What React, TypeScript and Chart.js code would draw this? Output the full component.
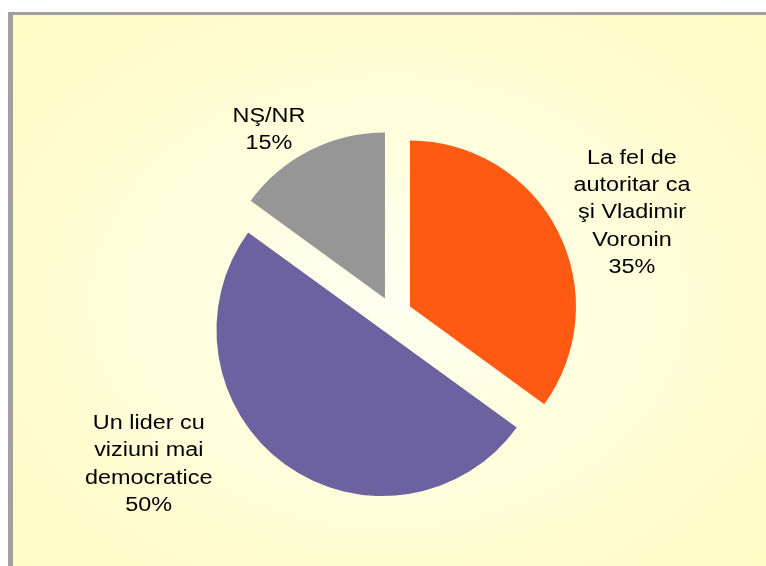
import React, { useEffect, useRef } from "react";
import { Chart, registerables } from "chart.js";

Chart.register(...registerables);

// ---- data ----
const categories: string[][] = [
  ["La fel de", "autoritar ca", "şi Vladimir", "Voronin"],
  ["Un lider cu", "viziuni mai", "democratice"],
  ["NŞ/NR"],
];
const values: number[] = [35, 50, 15];
const colors: string[] = ["#FF5A14", "#6C62A0", "#969696"];

// ---- label placement (relative to each slice) ----
const labelDistance: number[] = [1.455, 1.62, 1.24];
const labelShiftDeg: number[] = [3.8, 24.35, -7.3];
const EXPLODE = 18.6;

const FONT_PX = 20;
const LINE_PITCH = 27.2;
const TEXT_STRETCH = 1.17;

// Draw every slice pulled out along its mid-angle by the same distance
const explodePlugin = {
  id: "explodeSlices",
  beforeDatasetDraw(chart: any, args: any) {
    const ctx = chart.ctx as CanvasRenderingContext2D;
    const meta = args.meta;
    meta.data.forEach((arc: any) => {
      const p = arc.getProps(["startAngle", "endAngle"], true);
      const mid = (p.startAngle + p.endAngle) / 2;
      ctx.save();
      ctx.translate(Math.cos(mid) * EXPLODE, Math.sin(mid) * EXPLODE);
      arc.draw(ctx, chart.chartArea);
      ctx.restore();
    });
    return false;
  },
};

const labelPlugin = {
  id: "sliceLabels",
  afterDatasetsDraw(chart: any) {
    const ctx = chart.ctx as CanvasRenderingContext2D;
    const meta = chart.getDatasetMeta(0);
    meta.data.forEach((arc: any, i: number) => {
      const p = arc.getProps(["x", "y", "startAngle", "endAngle", "outerRadius"], true);
      const mid = (p.startAngle + p.endAngle) / 2;
      const vx = p.x + Math.cos(mid) * EXPLODE;
      const vy = p.y + Math.sin(mid) * EXPLODE;
      const a = mid + (labelShiftDeg[i] * Math.PI) / 180;
      const d = p.outerRadius * labelDistance[i];
      const cx = vx + Math.cos(a) * d;
      const cy = vy + Math.sin(a) * d;
      const lines = [...categories[i], `${values[i]}%`];
      ctx.save();
      ctx.font = `${FONT_PX}px "Liberation Sans", Arial, sans-serif`;
      ctx.fillStyle = "#000000";
      ctx.textAlign = "center";
      ctx.textBaseline = "alphabetic";
      const n = lines.length;
      lines.forEach((line, k) => {
        const by = cy + 7 + (k - (n - 1) / 2) * LINE_PITCH;
        ctx.save();
        ctx.translate(cx, by);
        ctx.scale(TEXT_STRETCH, 1);
        ctx.fillText(line, 0, 0);
        ctx.restore();
      });
      ctx.restore();
    });
  },
};

export default function App() {
  const canvasRef = useRef<HTMLCanvasElement | null>(null);

  useEffect(() => {
    if (!canvasRef.current) return;
    const chart = new Chart(canvasRef.current, {
      type: "pie",
      data: {
        labels: categories.map((c) => c.join(" ")),
        datasets: [
          {
            data: values,
            backgroundColor: colors,
            borderWidth: 0,
          },
        ],
      },
      options: {
        responsive: false,
        animation: false,
        devicePixelRatio: 1,
        radius: 166,
        layout: { padding: { left: 20.8, right: 0, top: 64, bottom: 0 } },
        plugins: {
          legend: { display: false },
          tooltip: { enabled: false },
          title: { display: false },
        },
      } as any,
      plugins: [explodePlugin, labelPlugin],
    });
    return () => chart.destroy();
  }, []);

  return (
    <div>
      <div
        style={{
          position: "fixed",
          left: 8,
          top: 12,
          width: 758,
          height: 554,
          boxSizing: "border-box",
          borderLeft: "5px solid #A0A0A0",
          borderTop: "3px solid #A0A0A0",
          background:
            "radial-gradient(ellipse farthest-corner at 50% 52%, #FFFFF2 0%, #FFFEE0 35%, #FFFCCA 80%, #FFFBC4 100%)",
        }}
      />
      <canvas
        ref={canvasRef}
        width={766}
        height={566}
        style={{ position: "fixed", left: 0, top: 0, width: 766, height: 566 }}
      />
    </div>
  );
}
